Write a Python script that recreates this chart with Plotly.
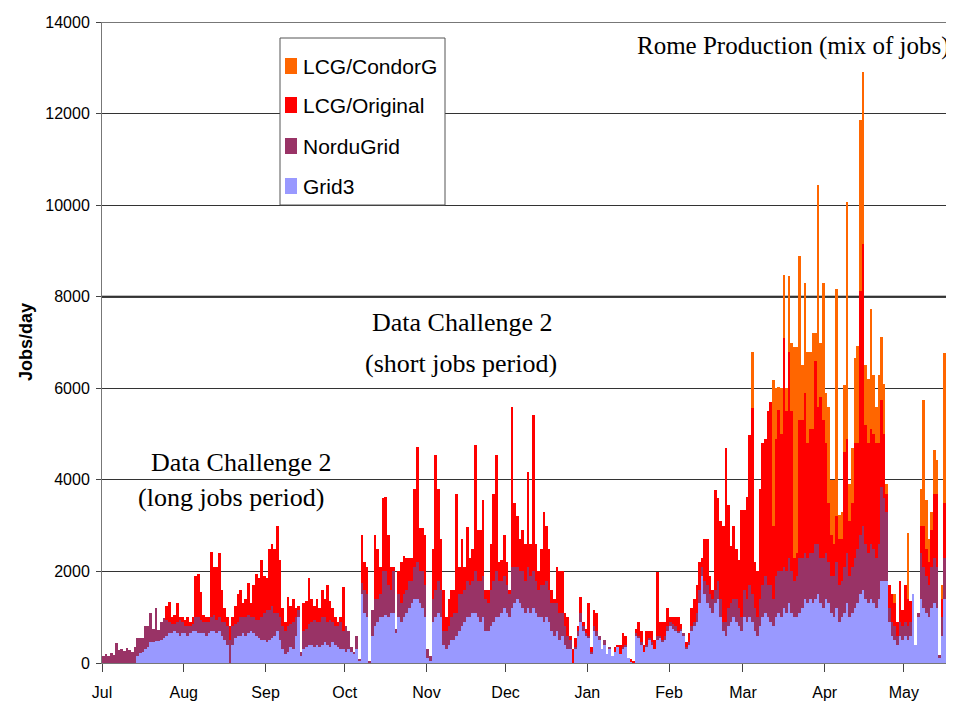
import plotly.graph_objects as go
import pandas as pd

# ---------------- data (jobs per day) ----------------
start_date = "2004-07-01"

grid3 = [
    # Jul
    0,0,0,0,0,0,0,0,0,0,0,0,0,150,220,250,300,350,450,450,480,480,500,550,600,650,650,700,650,600,650,
    # Aug
    650,600,650,700,700,650,650,650,600,650,700,700,650,700,600,500,400,0,400,550,600,600,650,600,650,700,650,600,550,500,500,
    # Sep
    450,500,550,600,700,500,300,200,250,350,300,600,1000,150,300,350,400,400,350,400,350,400,450,400,350,450,400,350,300,300,
    # Oct
    250,300,250,200,300,50,1500,1100,1000,20,600,800,900,1000,1000,1050,1000,1100,1100,650,1000,900,1000,1100,1200,1300,1400,1400,1300,1200,1000,
    # Nov
    100,50,900,1000,1100,1000,400,300,400,500,500,600,700,800,900,1000,1000,1100,1100,1000,900,1000,700,700,800,900,1000,1000,1100,1200,
    # Dec
    1100,1000,1200,1300,1400,1300,1200,1100,1200,1100,1200,1100,1000,1000,900,1000,900,700,600,700,500,600,400,300,300,0,300,600,900,700,600,
    # Jan
    550,200,700,600,500,300,400,200,300,150,250,350,200,300,350,100,30,0,600,550,400,250,350,500,400,300,500,550,450,500,700,
    # Feb
    800,750,700,650,700,600,300,400,700,800,900,1300,1900,1500,1300,1200,1100,1300,1400,1000,700,600,800,900,1000,900,800,700,
    # Mar
    1000,900,1000,900,700,600,800,1000,1100,1000,900,800,1000,1100,1000,1200,1100,1300,1100,1000,1000,1100,1200,1400,1300,1400,1300,1400,1500,1300,1200,
    # Apr
    1400,1300,1100,1000,1200,900,1000,1100,1300,1000,1100,1200,1300,1500,1600,1400,1300,1400,1300,1200,1400,1800,1800,1800,900,600,500,400,600,500,
    # May
    600,500,600,1500,400,1000,1400,1200,1100,1000,1200,1300,1200,100,600,1400,1000,1100,1200,
]

nordugrid = [
    # Jul
    150,200,150,220,180,440,280,300,260,330,280,250,340,400,330,300,500,450,640,300,720,250,400,430,350,250,200,150,250,350,250,
    # Aug
    150,200,150,150,300,350,300,250,300,250,300,350,300,300,300,400,400,500,400,300,300,400,350,400,400,300,350,350,400,500,600,
    # Sep
    700,650,700,500,400,500,500,500,550,500,600,400,150,100,400,400,450,500,600,500,550,600,550,500,600,450,400,450,600,400,
    # Oct
    550,400,100,50,300,30,250,500,500,30,550,600,500,500,1000,950,700,500,900,100,500,400,500,500,600,500,700,800,700,800,700,
    # Nov
    200,100,500,600,700,600,300,400,400,500,600,500,800,700,700,800,700,700,900,800,900,900,700,600,800,900,1000,800,700,700,
    # Dec
    600,500,900,800,700,700,800,700,900,800,800,700,600,700,800,800,700,600,700,600,600,500,400,300,200,0,50,100,200,100,50,
    # Jan
    50,50,100,100,100,0,100,0,50,0,0,0,0,50,50,0,0,0,50,50,50,0,50,50,50,0,100,50,50,100,100,
    # Feb
    100,100,100,50,50,50,50,50,100,100,200,300,200,300,400,300,300,300,400,400,200,300,400,400,400,500,400,300,
    # Mar
    600,500,700,600,500,400,600,700,800,700,800,600,900,900,1000,900,900,1000,900,800,900,1200,1100,1000,1000,1000,1100,1200,1100,1000,1100,
    # Apr
    1000,900,800,900,1000,800,800,1000,1100,900,1000,1100,1200,1300,1400,1200,1100,1200,1200,1100,1200,2050,1800,1500,300,300,300,200,300,300,
    # May
    300,300,300,0,0,100,1000,900,800,700,900,1000,900,80,400,900,800,900,1000,
]

lcg_original = [
    # Jul
    0,0,0,0,0,0,0,0,0,0,0,0,0,0,0,0,0,0,0,0,0,0,0,0,300,440,150,200,400,50,100,
    # Aug
    150,200,100,150,900,950,600,150,100,100,1430,1050,1150,1400,700,300,200,300,200,400,600,600,300,400,700,300,700,1000,900,1250,800,
    # Sep
    700,1350,1350,1400,1900,1250,400,200,650,400,500,200,100,0,600,600,1000,500,300,500,300,600,400,800,400,300,200,100,100,950,
    # Oct
    0,0,0,0,0,0,1050,600,600,0,0,1400,1100,600,1600,1630,1100,500,100,0,500,900,840,700,500,500,1690,2520,950,950,1100,
    # Nov
    0,0,1100,2940,2000,1100,900,300,600,600,500,2600,600,1200,500,1180,600,700,2760,1100,1100,1660,200,300,1000,1900,2540,400,450,900,
    # Dec
    500,100,3500,1400,1100,700,900,800,2080,700,3420,800,400,800,1600,1200,900,300,100,800,900,900,300,400,100,300,200,100,350,100,100,
    # Jan
    700,100,350,400,0,0,0,0,0,0,100,50,200,300,200,0,50,50,100,300,250,150,300,150,250,200,1390,300,400,300,400,
    # Feb
    100,150,200,300,100,0,100,200,400,500,600,600,200,900,1000,400,200,2180,1800,1700,2100,3790,2250,1250,1600,1100,1050,2340,
    # Mar
    1740,2230,3290,4060,1000,1000,2400,3100,3000,3800,4000,1600,3000,3530,3000,5000,3500,4500,3500,500,500,3000,3000,3500,2500,2700,2700,4000,3000,3500,3000,
    # Apr
    2400,1300,900,700,1000,1000,900,2500,2500,1200,1400,2500,2300,5330,6160,2600,2400,2500,2500,2500,2200,1890,1400,400,500,600,500,300,900,350,
    # May
    800,600,450,0,0,0,600,900,600,500,800,1400,1600,0,400,1200,600,400,1000,
]

lcg_condorg = [
    # Jul
    0,0,0,0,0,0,0,0,0,0,0,0,0,0,0,0,0,0,0,0,0,0,0,0,0,0,0,0,0,0,0,
    # Aug
    0,0,0,0,0,0,0,0,0,0,0,0,0,0,0,0,0,0,0,0,0,0,0,0,0,0,0,0,0,0,0,
    # Sep
    0,0,0,0,0,0,0,0,0,0,0,0,0,0,0,0,0,0,0,0,0,0,0,0,0,0,0,0,0,0,
    # Oct
    0,0,0,0,0,0,0,0,0,0,0,0,0,0,0,0,0,0,0,0,0,0,0,0,0,0,0,0,0,0,0,
    # Nov
    0,0,0,0,0,0,0,0,0,0,0,0,0,0,0,0,0,0,0,0,0,0,0,0,0,0,0,0,0,0,
    # Dec
    0,0,0,0,0,0,0,0,0,0,0,0,0,0,0,0,0,0,0,0,0,0,0,0,0,0,0,0,0,0,0,
    # Jan
    0,0,0,0,0,0,0,0,0,0,0,0,0,0,0,0,0,0,0,0,0,0,0,0,0,0,0,0,0,0,0,
    # Feb
    0,0,0,0,0,0,0,0,0,0,0,0,0,0,0,0,0,0,0,0,0,0,0,0,0,0,0,0,
    # Mar
    0,0,0,1240,0,0,0,0,0,0,0,3180,1100,500,1000,1370,500,1650,1500,4600,4500,3600,1200,2400,2000,1700,2100,600,4850,1200,3000,
    # Apr
    1100,2100,1200,1400,4970,530,600,1470,5160,800,1200,1870,2130,3740,3740,1300,1400,2640,1300,800,1500,1390,1100,220,0,0,200,0,0,0,
    # May
    0,1430,0,0,0,0,810,2740,1060,510,400,950,730,0,300,3260,570,600,2170,
]

month_starts = ["2004-07-01", "2004-08-01", "2004-09-01", "2004-10-01", "2004-11-01",
                "2004-12-01", "2005-01-01", "2005-02-01", "2005-03-01", "2005-04-01",
                "2005-05-01"]
month_labels = ["Jul", "Aug", "Sep", "Oct", "Nov", "Dec", "Jan", "Feb", "Mar", "Apr", "May"]
y_ticks = [0, 2000, 4000, 6000, 8000, 10000, 12000, 14000]
y_labels = ["0", "2000", "4000", "6000", "8000", "10000", "12000", "14000"]

# ---------------- figure ----------------
days = pd.date_range(start_date, periods=len(grid3), freq="D") + pd.Timedelta(hours=12)

series = [
    ("Grid3", grid3, "#9999FF"),
    ("NorduGrid", nordugrid, "#993366"),
    ("LCG/Original", lcg_original, "#FF0000"),
    ("LCG/CondorG", lcg_condorg, "#FF6600"),
]

fig = go.Figure()
for name, vals, col in series:
    fig.add_trace(go.Bar(
        x=days, y=vals, name=name,
        marker=dict(color=col, line=dict(width=0)),
        hoverinfo="x+y+name", showlegend=False,
    ))

sans = "Arial, 'Liberation Sans', sans-serif"
serif = "'Times New Roman', 'Liberation Serif', serif"

# the page body has an 8 px margin, so the figure is sized to end at the window edge
OFF = 8
W, H = 954 - OFF, 705 - OFF
PLOT_L, PLOT_R, PLOT_T, PLOT_B = 102, 954, 22, 663      # plot area in window pixels
L, R, T, B = PLOT_L - OFF, W - (PLOT_R - OFF), PLOT_T - OFF, H - (PLOT_B - OFF)
pw, ph = W - L - R, H - T - B

def px(x):
    return (x - PLOT_L) / pw

def py(y):
    return (PLOT_B - y) / ph

fig.update_layout(
    width=W, height=H,
    margin=dict(l=L, r=R, t=T, b=B, pad=0),
    paper_bgcolor="white", plot_bgcolor="white",
    barmode="stack", bargap=0,
    font=dict(family=sans, color="black"),
    showlegend=False,
    xaxis=dict(
        type="date", range=["2004-07-01", "2005-05-20"],
        tickmode="array", tickvals=month_starts, ticktext=month_labels,
        ticks="outside", ticklen=8, tickcolor="#444444", tickwidth=1,
        ticklabelstandoff=7,
        showline=True, linecolor="#777777", linewidth=1,
        showgrid=False, zeroline=False,
        tickfont=dict(family=sans, size=16, color="black"),
    ),
    yaxis=dict(
        range=[0, 14000], tickmode="array", tickvals=y_ticks, ticktext=y_labels,
        ticks="outside", ticklen=5, tickcolor="#444444",
        ticklabelstandoff=3,
        showline=True, linecolor="#777777", linewidth=1,
        showgrid=True, gridcolor="#333333", gridwidth=1,
        zeroline=False,
        tickfont=dict(family=sans, size=16, color="black"),
    ),
)

# emphasised 8000 line and top frame line
fig.add_shape(type="line", xref="paper", yref="y", x0=0, x1=1, y0=8000, y1=8000,
              line=dict(color="black", width=2), layer="below")
fig.add_shape(type="line", xref="paper", yref="y", x0=0, x1=1, y0=14000, y1=14000,
              line=dict(color="#777777", width=2), layer="above")

# legend drawn as box + swatches + text
fig.add_shape(type="rect", xref="paper", yref="paper",
              x0=px(280), x1=px(445), y0=py(205), y1=py(38),
              fillcolor="white", line=dict(color="#555555", width=1), layer="above")
legend_rows = [("LCG/CondorG", "#FF6600", 66), ("LCG/Original", "#FF0000", 105),
               ("NorduGrid", "#993366", 146), ("Grid3", "#9999FF", 186)]
for name, col, yc in legend_rows:
    fig.add_shape(type="rect", xref="paper", yref="paper",
                  x0=px(285), x1=px(297), y0=py(yc + 8), y1=py(yc - 8),
                  fillcolor=col, line=dict(width=0), layer="above")
    fig.add_annotation(text=name, xref="paper", yref="paper", x=px(301), y=py(yc),
                       xanchor="left", yanchor="middle", showarrow=False,
                       font=dict(family=sans, size=21, color="black"))

# axis title
fig.add_annotation(text="<b>Jobs/day</b>", textangle=-90, xref="paper", yref="paper",
                   x=px(26), y=py(342), xanchor="center", yanchor="middle", showarrow=False,
                   font=dict(family=sans, size=18, color="black"))

# text annotations
notes = [
    ("Data Challenge 2", 462, 322, "center"),
    ("(short jobs period)", 461, 364, "center"),
    ("Data Challenge 2", 241, 462, "center"),
    ("(long jobs period)", 231, 498, "center"),
]
for txt, x, y, anc in notes:
    fig.add_annotation(text=txt, xref="paper", yref="paper", x=px(x), y=py(y),
                       showarrow=False, xanchor=anc, yanchor="middle",
                       font=dict(family=serif, size=26, color="black"))
fig.add_annotation(text="Rome Production (mix of jobs)", xref="paper", yref="paper",
                   x=px(951), y=py(46), showarrow=False, xanchor="right", yanchor="middle",
                   font=dict(family=serif, size=25, color="black"))

fig.write_html("out.html")
